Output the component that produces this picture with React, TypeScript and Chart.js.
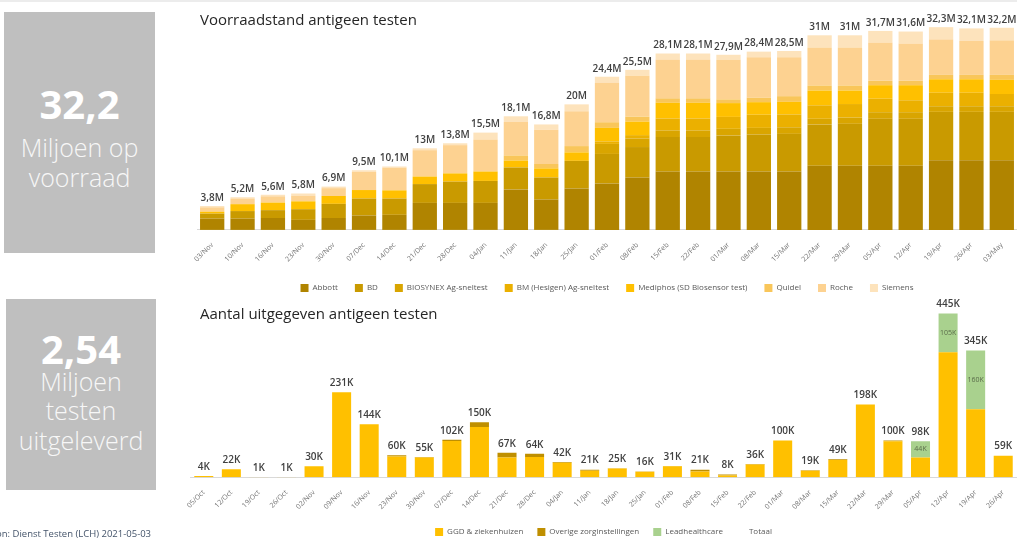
import React, { useEffect, useRef } from "react";
import { Chart, registerables } from "chart.js";
Chart.register(...registerables);

// ---------- Voorraadstand (stock) ----------
const stockWeeks = ["03/Nov","10/Nov","16/Nov","23/Nov","30/Nov","07/Dec","14/Dec","21/Dec","28/Dec","04/Jan","11/Jan","18/Jan","25/Jan","01/Feb","08/Feb","15/Feb","22/Feb","01/Mar","08/Mar","15/Mar","22/Mar","29/Mar","05/Apr","12/Apr","19/Apr","26/Apr","03/May"];
const abbott   = [1.8,1.8,1.9,1.6,1.9,2.3,2.4,4.3,4.3,4.3,6.45,4.85,6.6,7.4,8.35,9.3,9.3,9.3,9.3,9.3,10.2,10.2,10.2,10.2,11.1,11.1,11.1];
const bd       = [0.8,1.2,1.25,1.7,2.25,2.7,2.6,3.0,3.4,3.5,3.5,3.5,4.4,4.7,4.85,5.5,5.5,5.75,5.9,6.0,6.6,6.7,7.5,7.5,7.7,7.7,7.7];
const biosynex = [0,0,0,0,0,0,0,0,0,0,0,0,0,1.6,1.35,1.05,1.05,1.05,1.05,1.05,0.9,1.0,1.05,1.05,0.9,0.9,0.9];
const bmHesigen= [0,0,0,0,0,0,0,0,0,0,0,0,0,0.4,0.55,1.9,1.9,1.9,2.1,2.05,2.15,2.15,2.15,1.9,2.15,2.15,1.95];
const mediphos = [0.3,1.1,1.2,1.25,1.25,1.35,1.3,1.2,1.3,1.5,1.1,1.45,1.35,2.15,2.15,2.5,2.5,2.2,2.0,2.0,2.35,2.15,2.15,2.4,2.15,2.15,2.25];
const quidel   = [0,0,0,0,0,0,0,0,0,0,0.8,0.7,1.0,0.9,0.8,0.7,0.7,0.6,0.7,0.9,0.8,0.8,0.7,0.7,0.7,0.7,0.8];
const roche    = [0.7,0.9,1.0,0.9,1.25,2.9,3.6,4.2,4.5,5.1,5.35,5.45,5.55,6.35,6.5,6.2,6.2,6.3,6.45,6.2,6.0,6.0,6.05,5.95,5.65,5.4,5.5];
const siemens  = [0.2,0.2,0.25,0.35,0.25,0.25,0.2,0.3,0.3,1.1,0.9,0.85,1.1,0.9,0.95,0.95,0.95,0.8,0.9,1.0,2.0,2.0,1.9,1.9,1.95,2.0,2.0];
const stockTotals = [3.8,5.2,5.6,5.8,6.9,9.5,10.1,13,13.8,15.5,18.1,16.8,20,24.4,25.5,28.1,28.1,27.9,28.4,28.5,31,31,31.7,31.6,32.3,32.1,32.2];

// ---------- Uitgegeven (issued) ----------
const issuedWeeks = ["05/Oct","12/Oct","19/Oct","26/Oct","02/Nov","09/Nov","16/Nov","23/Nov","30/Nov","07/Dec","14/Dec","21/Dec","28/Dec","04/Jan","11/Jan","18/Jan","25/Jan","01/Feb","08/Feb","15/Feb","22/Feb","01/Mar","08/Mar","15/Mar","22/Mar","29/Mar","05/Apr","12/Apr","19/Apr","26/Apr"];
const ggd     = [4,22,1,1,30,231,144,57,54,99,137,54,55,40,18,24,15,30,16,5,35,100,18,47,198,98,54,340,185,59];
const overige = [0,0,0,0,0,0,0,3,1,3,13,13,9,2,3,1,1,1,5,3,1,0,1,2,0,2,0,0,0,0];
const lead    = [0,0,0,0,0,0,0,0,0,0,0,0,0,0,0,0,0,0,0,0,0,0,0,0,0,0,44,105,160,0];
const issuedTotals = [4,22,1,1,30,231,144,60,55,102,150,67,64,42,21,25,16,31,21,8,36,100,19,49,198,100,98,445,345,59];

const FONT = '"Open Sans", "Noto Sans", sans-serif';

const stockLabelPlugin = {
  id: "stockLabels",
  afterDatasetsDraw(chart: any) {
    const ctx = chart.ctx;
    const xs = chart.scales.x;
    const ys = chart.scales.y;
    ctx.save();
    ctx.font = `600 10px ${FONT}`;
    ctx.fillStyle = "#404040";
    ctx.textAlign = "center";
    ctx.textBaseline = "bottom";
    stockTotals.forEach((v, i) => {
      const x = xs.getPixelForValue(i);
      const y = ys.getPixelForValue(v);
      ctx.fillText(String(v).replace(".", ",") + "M", x, y - 3);
    });
    ctx.restore();
  },
};

const issuedLabelPlugin = {
  id: "issuedLabels",
  afterDatasetsDraw(chart: any) {
    const ctx = chart.ctx;
    ctx.save();
    ctx.textAlign = "center";
    const totMeta = chart.getDatasetMeta(3);
    ctx.font = `600 10px ${FONT}`;
    ctx.fillStyle = "#404040";
    ctx.textBaseline = "bottom";
    totMeta.data.forEach((pt: any, i: number) => {
      ctx.fillText(issuedTotals[i] + "K", pt.x, pt.y - 4);
    });
    const leadMeta = chart.getDatasetMeta(2);
    ctx.font = `500 7px ${FONT}`;
    ctx.fillStyle = "#5a6b4a";
    ctx.textBaseline = "middle";
    leadMeta.data.forEach((el: any, i: number) => {
      if (lead[i] >= 40) ctx.fillText(lead[i] + "K", el.x, (el.y + el.base) / 2);
    });
    ctx.restore();
  },
};

function StockChart() {
  const ref = useRef<HTMLCanvasElement>(null);
  useEffect(() => {
    const mk = (label: string, data: number[], color: string) => ({
      label, data, backgroundColor: color, borderWidth: 0, barPercentage: 0.8, categoryPercentage: 1,
    });
    const chart = new Chart(ref.current!, {
      type: "bar",
      data: {
        labels: stockWeeks,
        datasets: [
          mk("Abbott", abbott, "#b08400"),
          mk("BD", bd, "#c99a00"),
          mk("BIOSYNEX Ag-sneltest", biosynex, "#d9a500"),
          mk("BM (Hesigen) Ag-sneltest", bmHesigen, "#ebb000"),
          mk("Mediphos (SD Biosensor test)", mediphos, "#ffc000"),
          mk("Quidel", quidel, "#f9c65a"),
          mk("Roche", roche, "#fdd291"),
          mk("Siemens", siemens, "#fde3bc"),
        ],
      },
      options: {
        responsive: false,
        animation: false,
        layout: { padding: { left: 47, top: 8, right: 0, bottom: 2 } },
        plugins: {
          legend: {
            position: "bottom",
            labels: { boxWidth: 8, boxHeight: 8, padding: 17, color: "#595959", font: { size: 8, family: FONT } },
          },
          tooltip: { enabled: false },
          title: { display: false },
        },
        scales: {
          x: {
            stacked: true,
            grid: { display: false },
            border: { display: true, color: "#d9d9d9" },
            ticks: { minRotation: 45, maxRotation: 45, autoSkip: false, color: "#737373", font: { size: 7, family: FONT } },
          },
          y: { stacked: true, display: false, min: 0, max: 35.35 },
        },
      },
      plugins: [stockLabelPlugin],
    });
    return () => chart.destroy();
  }, []);
  return <canvas ref={ref} width={867} height={304} style={{ position: "absolute", left: 150, top: 0 }} />;
}

function IssuedChart() {
  const ref = useRef<HTMLCanvasElement>(null);
  useEffect(() => {
    const mk = (label: string, data: number[], color: string) => ({
      type: "bar" as const, label, data, backgroundColor: color, borderWidth: 0, barPercentage: 0.69, categoryPercentage: 1,
    });
    const chart = new Chart(ref.current!, {
      type: "bar",
      data: {
        labels: issuedWeeks,
        datasets: [
          mk("GGD & ziekenhuizen", ggd, "#ffc000"),
          mk("Overige zorginstellingen", overige, "#bf8f00"),
          mk("Leadhealthcare", lead, "#a9d18e"),
          {
            type: "line" as const, label: "Totaal", data: issuedTotals, stack: "tot",
            borderColor: "rgba(0,0,0,0)", backgroundColor: "rgba(0,0,0,0)", showLine: false, pointRadius: 0,
          } as any,
        ],
      },
      options: {
        responsive: false,
        animation: false,
        layout: { padding: { left: 40, top: 5, right: 0, bottom: 0 } },
        plugins: {
          legend: {
            position: "bottom",
            labels: { boxWidth: 8, boxHeight: 8, padding: 14, color: "#595959", font: { size: 8, family: FONT } },
          },
          tooltip: { enabled: false },
        },
        scales: {
          x: {
            stacked: true,
            grid: { display: false },
            border: { display: true, color: "#d9d9d9" },
            ticks: { minRotation: 45, maxRotation: 45, autoSkip: false, color: "#737373", font: { size: 7, family: FONT } },
          },
          y: { stacked: true, display: false, min: 0, max: 482 },
        },
      },
      plugins: [issuedLabelPlugin],
    });
    return () => chart.destroy();
  }, []);
  return <canvas ref={ref} width={867} height={251} style={{ position: "absolute", left: 150, top: 295 }} />;
}

const boxText: React.CSSProperties = {
  position: "absolute", left: 0, width: "100%", textAlign: "center", color: "#f7f7f7",
  fontFamily: FONT, whiteSpace: "nowrap", lineHeight: 1,
};

export default function App() {
  return (
    <div style={{ position: "fixed", left: 0, top: 0, width: 1017, height: 539, background: "#fff", overflow: "hidden" }}>
      <div style={{ position: "absolute", left: 0, top: 0, width: 1017, height: 2, background: "#ececec" }} />
      <div style={{ position: "absolute", left: 4, top: 12, width: 151, height: 241, background: "#bfbfbf" }}>
        <div style={{ ...boxText, top: 72, fontSize: 40, fontWeight: 700, color: "#fff" }}>32,2</div>
        <div style={{ ...boxText, top: 123, fontSize: 25, fontWeight: 300 }}>Miljoen op</div>
        <div style={{ ...boxText, top: 153, fontSize: 25, fontWeight: 300 }}>voorraad</div>
      </div>
      <div style={{ position: "absolute", left: 6, top: 299, width: 150, height: 191, background: "#bfbfbf" }}>
        <div style={{ ...boxText, top: 30, fontSize: 40, fontWeight: 700, color: "#fff" }}>2,54</div>
        <div style={{ ...boxText, top: 70, fontSize: 25, fontWeight: 300 }}>Miljoen</div>
        <div style={{ ...boxText, top: 99, fontSize: 25, fontWeight: 300 }}>testen</div>
        <div style={{ ...boxText, top: 129, fontSize: 25, fontWeight: 300 }}>uitgeleverd</div>
      </div>
      <StockChart />
      <IssuedChart />
      <div style={{ position: "absolute", left: 200, top: 9, fontFamily: FONT, fontSize: 15, color: "#262626", whiteSpace: "nowrap" }}>
        Voorraadstand antigeen testen
      </div>
      <div style={{ position: "absolute", left: 200, top: 303, fontFamily: FONT, fontSize: 15, color: "#262626", whiteSpace: "nowrap" }}>
        Aantal uitgegeven antigeen testen
      </div>
      <div style={{ position: "absolute", left: -14, top: 527, fontFamily: FONT, fontSize: 9.5, color: "#44546a", whiteSpace: "nowrap" }}>
        Bron: Dienst Testen (LCH) 2021-05-03
      </div>
    </div>
  );
}
